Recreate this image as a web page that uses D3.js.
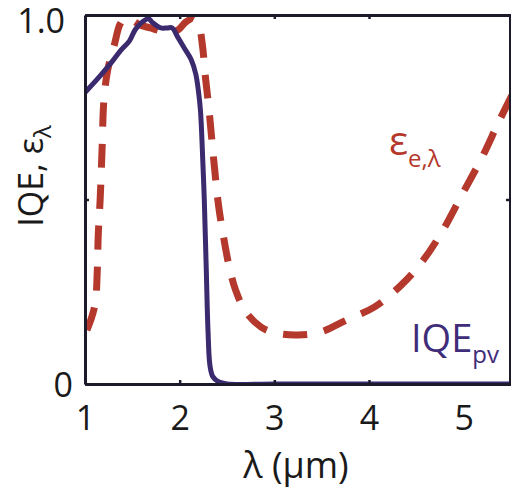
<!DOCTYPE html>
<html>
<head>
<meta charset="utf-8">
<script src="https://cdn.jsdelivr.net/npm/d3@7"></script>
<style>
  html, body { margin: 0; padding: 0; background: #fff; }
  svg { display: block; }
  text { font-family: "Open Sans", "Noto Sans", sans-serif; }
</style>
</head>
<body>
<svg id="chart" width="511" height="493"></svg>
<script>
// ---- data ----
const iqeWavelength = [1.0, 1.16, 1.29, 1.38, 1.47, 1.53, 1.6, 1.67, 1.71, 1.8, 1.87, 1.92, 1.98, 2.05, 2.12, 2.17, 2.2, 2.22, 2.245, 2.26, 2.28, 2.3, 2.32, 2.35, 2.41, 2.5, 3.0, 4.0, 5.0, 5.5];
const iqeValues     = [0.79, 0.835, 0.875, 0.905, 0.93, 0.96, 0.98, 0.99, 0.98, 0.965, 0.965, 0.965, 0.94, 0.91, 0.88, 0.84, 0.79, 0.74, 0.6, 0.5, 0.32, 0.14, 0.05, 0.02, 0.006, 0.0, 0.0, 0.0, 0.0, 0.0];

const emisWavelength = [1.02, 1.07, 1.11, 1.13, 1.14, 1.16, 1.18, 1.2, 1.24, 1.31, 1.37, 1.42, 1.5, 1.58, 1.69, 1.85, 1.98, 2.06, 2.14, 2.2, 2.24, 2.27, 2.31, 2.36, 2.41, 2.46, 2.52, 2.59, 2.7, 2.86, 3.02, 3.25, 3.49, 3.76, 4.06, 4.34, 4.56, 4.77, 4.98, 5.19, 5.37, 5.51];
const emisValues     = [0.146, 0.18, 0.222, 0.309, 0.404, 0.5, 0.634, 0.77, 0.851, 0.919, 0.975, 0.99, 0.985, 0.973, 0.965, 0.954, 0.959, 0.98, 0.99, 0.973, 0.919, 0.837, 0.743, 0.607, 0.485, 0.404, 0.322, 0.255, 0.195, 0.154, 0.138, 0.133, 0.141, 0.173, 0.209, 0.268, 0.331, 0.412, 0.512, 0.612, 0.71, 0.783];

const xTickValues = [1, 2, 3, 4, 5];
const xTickLabels = ["1", "2", "3", "4", "5"];
const xTickMarks = [2, 3, 4];
const yTickValues = [0, 0.5, 1.0];
const yTickLabels = ["0", "", "1.0"];

// ---- layout ----
const svg = d3.select("#chart");
const x = d3.scaleLinear().domain([1, 5.5]).range([85, 511]);
const y = d3.scaleLinear().domain([0, 1]).range([384, 15]);

const spineColor = "#1c1b2b";
const iqeColor = "#3b2a6e";
const emisColor = "#b5382c";

svg.append("defs").append("clipPath").attr("id", "plotclip")
  .append("rect").attr("x", x(1)).attr("y", y(1) - 2)
  .attr("width", x(5.5) - x(1)).attr("height", y(0) - y(1) + 2);

// lines
const iqeData = iqeWavelength.map((w, i) => [w, iqeValues[i]]);
const emisData = emisWavelength.map((w, i) => [w, emisValues[i]]);
const smooth = d3.line().x(d => x(d[0])).y(d => y(d[1])).curve(d3.curveCatmullRom.alpha(0.5));

const plot = svg.append("g").attr("clip-path", "url(#plotclip)");
plot.append("path").datum(emisData)
  .attr("d", smooth)
  .attr("fill", "none").attr("stroke", emisColor).attr("stroke-width", 7)
  .attr("stroke-dasharray", "24,17");
plot.append("path").datum(iqeData)
  .attr("d", smooth)
  .attr("fill", "none").attr("stroke", iqeColor).attr("stroke-width", 5)
  .attr("stroke-linejoin", "round");

// axes (inward ticks)
const fmtX = d => xTickLabels[xTickValues.indexOf(d)];
const fmtY = d => yTickLabels[yTickValues.indexOf(d)];

const axB = svg.append("g").attr("transform", `translate(0,${y(0)})`)
  .call(d3.axisBottom(x).tickValues(xTickValues).tickFormat(fmtX).tickSizeInner(-4).tickSizeOuter(0).tickPadding(46));
axB.selectAll(".tick line").filter(d => !xTickMarks.includes(d)).remove();
const axT = svg.append("g").attr("transform", `translate(0,${y(1)})`)
  .call(d3.axisTop(x).tickValues(xTickMarks).tickFormat("").tickSizeInner(-4).tickSizeOuter(0));
const axL = svg.append("g").attr("transform", `translate(${x(1)},0)`)
  .call(d3.axisLeft(y).tickValues(yTickValues).tickFormat(fmtY).tickSizeInner(-4).tickSizeOuter(0).tickPadding(13));
const axR = svg.append("g").attr("transform", `translate(${x(5.5) - 1},0)`)
  .call(d3.axisRight(y).tickValues(yTickValues).tickFormat("").tickSizeInner(-4).tickSizeOuter(0));

[axB, axT, axL, axR].forEach(g => {
  g.select(".domain").attr("stroke", spineColor).attr("stroke-width", 3);
  g.selectAll(".tick line").attr("stroke", spineColor).attr("stroke-width", 2.5);
  g.selectAll(".tick text").attr("font-family", "'Open Sans', sans-serif")
    .attr("font-size", 34).attr("fill", "#1a1a1a");
});
axB.selectAll(".tick text").attr("dy", 0);
axL.selectAll(".tick text").attr("dy", "0.36em");
axL.selectAll(".tick text").filter(d => d === 1).attr("dy", "0.5em").attr("x", -20);
axL.selectAll(".tick text").filter(d => d === 0).attr("x", -12);

// axis titles
svg.append("text").attr("x", (x(1) + x(5.5)) / 2 - 2).attr("y", 478)
  .attr("text-anchor", "middle").attr("font-size", 36).attr("fill", "#1a1a1a")
  .text("λ (μm)");

const yl = svg.append("text").attr("transform", "translate(43,176) rotate(-90)")
  .attr("text-anchor", "middle").attr("font-size", 34).attr("fill", "#1a1a1a");
yl.append("tspan").text("IQE, ε");
yl.append("tspan").attr("dy", 8).attr("font-size", 24).text("λ");

// curve labels
const el = svg.append("text").attr("x", 389).attr("y", 155).attr("fill", emisColor).attr("font-size", 40);
el.append("tspan").text("ε");
el.append("tspan").attr("dy", 12).attr("font-size", 24).text("e,λ");

const il = svg.append("text").attr("x", 411).attr("y", 352).attr("fill", "#3f2d7a").attr("font-size", 38);
il.append("tspan").text("IQE");
il.append("tspan").attr("dy", 11).attr("font-size", 24).text("pv");
</script>
</body>
</html>
